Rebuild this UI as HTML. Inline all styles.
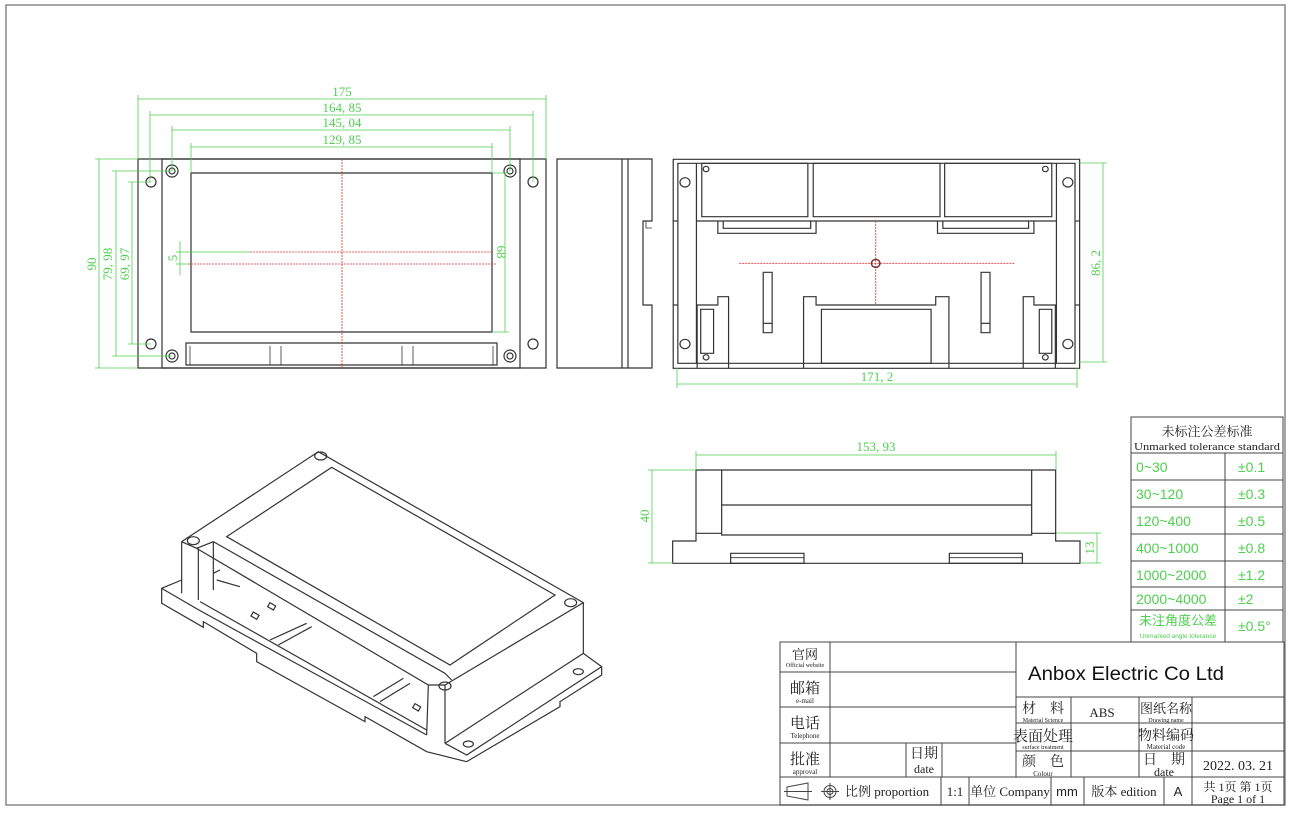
<!DOCTYPE html>
<html><head><meta charset="utf-8"><style>
html,body{margin:0;padding:0;background:#fff;}
svg{display:block;}
.l{fill:none;stroke:#333;stroke-width:1.2;vector-effect:non-scaling-stroke;}
.t{fill:none;stroke:#333;stroke-width:0.8;vector-effect:non-scaling-stroke;}
.g{fill:none;stroke:#4fcf4f;stroke-width:0.8;}
.r{fill:none;stroke:#e03030;stroke-width:0.8;stroke-dasharray:2 1;vector-effect:non-scaling-stroke;}
.dt{font-family:"Liberation Serif",serif;font-size:13px;fill:#4fcf4f;}
.gt{font-family:"Liberation Sans","Noto Sans CJK SC",sans-serif;fill:#4fcf4f;}
.bt{font-family:"Liberation Serif","Noto Serif CJK SC",serif;fill:#222;}
.tb{fill:none;stroke:#444;stroke-width:1;}
</style></head><body>
<svg width="1293" height="816" viewBox="0 0 1293 816" xmlns="http://www.w3.org/2000/svg">
<rect x="6" y="5" width="1279" height="800" fill="none" stroke="#888" stroke-width="1.5"/>

<!-- Top-left view -->
<g>
<rect class="l" x="138" y="159" width="408" height="209"/>
<rect class="l" x="162" y="159" width="358" height="209"/>
<rect class="l" x="191" y="173" width="301" height="159"/>
<rect class="l" x="186" y="343" width="311" height="22"/>
<line class="t" x1="190" y1="346" x2="190" y2="365"/><line class="t" x1="493" y1="346" x2="493" y2="365"/>
<line class="t" x1="270" y1="346" x2="270" y2="365"/><line class="t" x1="281" y1="346" x2="281" y2="365"/>
<line class="t" x1="402" y1="346" x2="402" y2="365"/><line class="t" x1="413" y1="346" x2="413" y2="365"/>
<g class="l">
<circle cx="172" cy="171" r="6"/><circle cx="172" cy="171" r="3"/>
<circle cx="510" cy="171" r="6"/><circle cx="510" cy="171" r="3"/>
<circle cx="172" cy="356" r="6"/><circle cx="172" cy="356" r="3"/>
<circle cx="510" cy="356" r="6"/><circle cx="510" cy="356" r="3"/>
<circle cx="151" cy="182" r="5"/><circle cx="533" cy="182" r="5"/>
<circle cx="151" cy="344" r="5"/><circle cx="533" cy="344" r="5"/>
</g>
<line class="r" x1="342" y1="159" x2="342" y2="368"/>
<line class="r" x1="188" y1="264" x2="496" y2="264"/>
<line class="r" x1="250" y1="252" x2="492" y2="252"/>
<line class="g" x1="188" y1="252" x2="250" y2="252"/>
<g class="g">
<line x1="138" y1="99" x2="546" y2="99"/><line x1="138" y1="95" x2="138" y2="159"/><line x1="546" y1="95" x2="546" y2="159"/>
<line x1="150" y1="115" x2="533" y2="115"/><line x1="150" y1="111" x2="150" y2="182"/><line x1="533" y1="111" x2="533" y2="182"/>
<line x1="172" y1="130" x2="510" y2="130"/><line x1="172" y1="126" x2="172" y2="171"/><line x1="510" y1="126" x2="510" y2="171"/>
<line x1="191" y1="147" x2="492" y2="147"/><line x1="191" y1="143" x2="191" y2="173"/><line x1="492" y1="143" x2="492" y2="173"/>
<line x1="99" y1="159" x2="99" y2="368"/><line x1="95" y1="159" x2="138" y2="159"/><line x1="95" y1="368" x2="138" y2="368"/>
<line x1="116" y1="171" x2="116" y2="356"/><line x1="112" y1="171" x2="172" y2="171"/><line x1="112" y1="356" x2="172" y2="356"/>
<line x1="132" y1="182" x2="132" y2="344"/><line x1="128" y1="182" x2="151" y2="182"/><line x1="128" y1="344" x2="151" y2="344"/>
<line x1="180" y1="241" x2="180" y2="275"/><line x1="176" y1="252" x2="188" y2="252"/><line x1="176" y1="264" x2="188" y2="264"/>
<line x1="505" y1="173" x2="505" y2="332"/><line x1="492" y1="173" x2="509" y2="173"/><line x1="492" y1="332" x2="509" y2="332"/>
</g>
<text class="dt" x="342" y="96" text-anchor="middle">175</text>
<text class="dt" x="342" y="112" text-anchor="middle">164, 85</text>
<text class="dt" x="342" y="127" text-anchor="middle">145, 04</text>
<text class="dt" x="342" y="144" text-anchor="middle">129, 85</text>
<text class="dt" transform="translate(96,264) rotate(-90)" text-anchor="middle">90</text>
<text class="dt" transform="translate(112,264) rotate(-90)" text-anchor="middle">79, 98</text>
<text class="dt" transform="translate(129,264) rotate(-90)" text-anchor="middle">69, 97</text>
<text class="dt" transform="translate(177,258) rotate(-90)" text-anchor="middle">5</text>
<text class="dt" transform="translate(497,252) rotate(90)" text-anchor="middle">68</text>
</g>

<!-- Side view -->
<path class="l" d="M557 159 H652 V221 H643 V305 H652 V368 H557 Z"/>
<line class="l" x1="622" y1="159" x2="622" y2="368"/>
<line class="l" x1="628" y1="159" x2="628" y2="368"/>
<path class="t" d="M646 221 V228 H652"/>

<!-- Back view -->
<g transform="translate(550,150) scale(0.35714,0.33333)">
<rect class="l" x="345" y="28" width="1138" height="627"/>
<rect class="l" x="358" y="40" width="1112" height="600"/>
<line class="l" x1="410" y1="40" x2="410" y2="640"/><line class="l" x1="1418" y1="40" x2="1418" y2="640"/>
<line class="l" x1="345" y1="213" x2="358" y2="213"/><line class="l" x1="345" y1="465" x2="358" y2="465"/>
<line class="l" x1="1470" y1="213" x2="1483" y2="213"/><line class="l" x1="1470" y1="465" x2="1483" y2="465"/>
<rect class="l" x="425" y="40" width="297" height="160"/>
<rect class="l" x="737" y="40" width="355" height="160"/>
<rect class="l" x="1105" y="40" width="300" height="160"/>
<line class="l" x1="410" y1="213" x2="1418" y2="213"/>
<path class="l" d="M470 213 V250 H745 V213 M485 213 V235 H730 V213"/>
<path class="l" d="M1085 213 V250 H1355 V213 M1100 213 V235 H1340 V213"/>
<circle class="l" cx="378" cy="97" r="14"/><circle class="l" cx="1450" cy="97" r="14"/>
<circle class="l" cx="378" cy="582" r="14"/><circle class="l" cx="1450" cy="582" r="14"/>
<circle class="l" cx="437" cy="57" r="8"/><circle class="l" cx="1387" cy="57" r="8"/>
<circle class="l" cx="437" cy="622" r="8"/><circle class="l" cx="1387" cy="622" r="8"/>
<line class="r" x1="530" y1="340" x2="1300" y2="340"/>
<line class="r" x1="912" y1="213" x2="912" y2="465"/>
<circle cx="912" cy="340" r="12" fill="none" stroke="#733" stroke-width="1.5" vector-effect="non-scaling-stroke"/>
<rect class="l" x="597" y="367" width="25" height="181"/><line class="l" x1="597" y1="520" x2="622" y2="520"/>
<rect class="l" x="1207" y="367" width="25" height="181"/><line class="l" x1="1207" y1="520" x2="1232" y2="520"/>
<path class="l" d="M710 655 V440 H745 V465 H1080 V440 H1117 V655"/>
<rect class="l" x="760" y="478" width="307" height="162"/>
<path class="l" d="M412 655 V465 H470 V440 H500 V655"/>
<rect class="l" x="422" y="478" width="36" height="132"/>
<path class="l" d="M1415 655 V465 H1355 V440 H1325 V655"/>
<rect class="l" x="1370" y="478" width="35" height="132"/>
</g>
<g class="g">
<line x1="677" y1="384" x2="1077" y2="384"/><line x1="677" y1="368" x2="677" y2="388"/><line x1="1077" y1="368" x2="1077" y2="388"/>
<line x1="1103" y1="163" x2="1103" y2="362"/><line x1="1078" y1="163" x2="1107" y2="163"/><line x1="1078" y1="362" x2="1107" y2="362"/>
</g>
<text class="dt" x="877" y="381" text-anchor="middle">171, 2</text>
<text class="dt" transform="translate(1100,263) rotate(-90)" text-anchor="middle">86, 2</text>

<!-- Bottom front view -->
<g transform="translate(635,435) scale(0.33333)">
<path class="l" d="M113 385 V318 H183 V105 H1262 V318 H1335 V385 Z"/>
<line class="l" x1="183" y1="295" x2="260" y2="295"/><line class="l" x1="1190" y1="295" x2="1262" y2="295"/>
<path class="l" d="M260 105 V300 H1190 V105"/>
<line class="l" x1="260" y1="210" x2="1190" y2="210"/>
<rect class="l" x="287" y="355" width="220" height="30"/><line class="t" x1="287" y1="368" x2="507" y2="368"/>
<rect class="l" x="943" y="355" width="219" height="30"/><line class="t" x1="943" y1="368" x2="1162" y2="368"/>
</g>
<g class="g">
<line x1="696" y1="455" x2="1056" y2="455"/><line x1="696" y1="451" x2="696" y2="470"/><line x1="1056" y1="451" x2="1056" y2="470"/>
<line x1="652" y1="470" x2="652" y2="563"/><line x1="648" y1="470" x2="696" y2="470"/><line x1="648" y1="563" x2="673" y2="563"/>
<line x1="1097" y1="533" x2="1097" y2="563"/><line x1="1056" y1="533" x2="1101" y2="533"/><line x1="1080" y1="563" x2="1101" y2="563"/>
</g>
<text class="dt" x="876" y="451" text-anchor="middle">153, 93</text>
<text class="dt" transform="translate(649,516) rotate(-90)" text-anchor="middle">40</text>
<text class="dt" transform="translate(1094,548) rotate(-90)" text-anchor="middle">13</text>

<!-- Isometric -->
<g transform="translate(150,440) scale(0.33333)">
<path class="l" d="M95 305 L505 35 L1300 488 L885 735"/>
<path class="l" d="M95 305 L140 325 L190 305 L885 700 L905 720"/>
<path class="l" d="M140 325 L835 735 L885 735"/>
<path class="l" d="M230 290 L545 82 L1215 465 L900 675 Z"/>
<line class="l" x1="95" y1="305" x2="95" y2="460"/>
<line class="l" x1="145" y1="325" x2="145" y2="480"/>
<line class="l" x1="190" y1="305" x2="190" y2="450"/>
<line class="l" x1="885" y1="735" x2="885" y2="910"/>
<line class="l" x1="835" y1="735" x2="830" y2="885"/>
<line class="l" x1="1300" y1="488" x2="1300" y2="640"/>
<path class="l" d="M885 910 L1300 640 L1355 680 L1355 705 L1230 785 L1230 800 L950 965"/>
<path class="l" d="M1355 680 L950 945 L885 910"/>
<path class="l" d="M95 420 L35 445 L35 490 L160 562 L160 545 L320 640 L320 665 L645 845 L645 830 L830 935 L950 965"/>
<path class="l" d="M35 445 L150 512 L830 885"/>
<path class="l" d="M150 485 L830 870"/>
<path class="l" d="M360 600 L470 550 M385 615 L485 560 M670 770 L760 715 M690 785 L780 730"/>
<path class="l" d="M190 400 L210 390 M200 420 L270 440"/>
<rect class="l" x="305" y="520" width="20" height="14" transform="rotate(30 315 527)"/>
<rect class="l" x="355" y="492" width="20" height="14" transform="rotate(30 365 499)"/>
<rect class="l" x="790" y="795" width="20" height="14" transform="rotate(30 800 802)"/>
<ellipse class="l" cx="512" cy="48" rx="18" ry="12"/>
<ellipse class="l" cx="130" cy="302" rx="18" ry="12"/>
<ellipse class="l" cx="1262" cy="488" rx="18" ry="12"/>
<ellipse class="l" cx="885" cy="738" rx="18" ry="12"/>
<ellipse class="l" cx="1285" cy="695" rx="15" ry="9"/>
<ellipse class="l" cx="955" cy="912" rx="15" ry="9"/>
</g>

<!-- Tolerance table -->
<g>
<rect class="tb" x="1131" y="417" width="152" height="225"/>
<g class="tb">
<line x1="1131" y1="453" x2="1283" y2="453"/>
<line x1="1131" y1="480" x2="1283" y2="480"/>
<line x1="1131" y1="507" x2="1283" y2="507"/>
<line x1="1131" y1="534" x2="1283" y2="534"/>
<line x1="1131" y1="561" x2="1283" y2="561"/>
<line x1="1131" y1="587" x2="1283" y2="587"/>
<line x1="1131" y1="610" x2="1283" y2="610"/>
<line x1="1225" y1="453" x2="1225" y2="642"/>
</g>
<text class="bt" x="1207" y="436" font-size="13" text-anchor="middle">未标注公差标准</text>
<text class="bt" x="1207" y="450" font-size="10" text-anchor="middle" font-family="Liberation Mono" textLength="146" lengthAdjust="spacingAndGlyphs">Unmarked tolerance standard</text>
<g class="gt" font-size="14">
<text x="1136" y="472">0~30</text><text x="1238" y="472">±0.1</text>
<text x="1136" y="499">30~120</text><text x="1238" y="499">±0.3</text>
<text x="1136" y="526">120~400</text><text x="1238" y="526">±0.5</text>
<text x="1136" y="553">400~1000</text><text x="1238" y="553">±0.8</text>
<text x="1136" y="580">1000~2000</text><text x="1238" y="580">±1.2</text>
<text x="1136" y="604">2000~4000</text><text x="1238" y="604">±2</text>
<text x="1238" y="631">±0.5°</text>
</g>
<text class="gt" x="1178" y="625" font-size="13" text-anchor="middle">未注角度公差</text>
<text class="gt" x="1178" y="638" font-size="6.5" text-anchor="middle">Unmarked angle tolerance</text>
</g>

<!-- Title block -->
<g>
<rect class="tb" x="780" y="642" width="504" height="163"/>
<g class="tb">
<line x1="830" y1="642" x2="830" y2="777"/>
<line x1="1016" y1="642" x2="1016" y2="777"/>
<line x1="780" y1="672" x2="1016" y2="672"/>
<line x1="780" y1="707" x2="1016" y2="707"/>
<line x1="780" y1="743" x2="1016" y2="743"/>
<line x1="780" y1="777" x2="1284" y2="777"/>
<line x1="906" y1="743" x2="906" y2="777"/>
<line x1="942" y1="743" x2="942" y2="777"/>
<line x1="1016" y1="697" x2="1284" y2="697"/>
<line x1="1016" y1="723" x2="1284" y2="723"/>
<line x1="1016" y1="751" x2="1284" y2="751"/>
<line x1="1071" y1="697" x2="1071" y2="777"/>
<line x1="1139" y1="697" x2="1139" y2="777"/>
<line x1="1192" y1="697" x2="1192" y2="805"/>
<line x1="941" y1="777" x2="941" y2="805"/>
<line x1="969" y1="777" x2="969" y2="805"/>
<line x1="1051" y1="777" x2="1051" y2="805"/>
<line x1="1084" y1="777" x2="1084" y2="805"/>
<line x1="1164" y1="777" x2="1164" y2="805"/>
</g>
<g class="bt">
<text x="805" y="659" font-size="13" text-anchor="middle">官网</text>
<text x="805" y="667" font-size="6" text-anchor="middle">Official website</text>
<text x="805" y="693" font-size="15" text-anchor="middle">邮箱</text>
<text x="805" y="703" font-size="7" text-anchor="middle">e-mail</text>
<text x="805" y="728" font-size="15" text-anchor="middle">电话</text>
<text x="805" y="738" font-size="7" text-anchor="middle">Telephone</text>
<text x="805" y="764" font-size="15" text-anchor="middle">批准</text>
<text x="805" y="774" font-size="7" text-anchor="middle">approval</text>
<text x="924" y="758" font-size="14" text-anchor="middle">日期</text>
<text x="924" y="773" font-size="12" text-anchor="middle">date</text>
<text x="1043" y="713" font-size="14" text-anchor="middle">材　料</text>
<text x="1043" y="722" font-size="6" text-anchor="middle">Material Science</text>
<text x="1102" y="717" font-size="13" text-anchor="middle">ABS</text>
<text x="1166" y="713" font-size="13" text-anchor="middle">图纸名称</text>
<text x="1166" y="722" font-size="6" text-anchor="middle">Drawing name</text>
<text x="1043" y="741" font-size="15" text-anchor="middle">表面处理</text>
<text x="1043" y="749" font-size="6" text-anchor="middle">surface treatment</text>
<text x="1166" y="740" font-size="14" text-anchor="middle">物料编码</text>
<text x="1166" y="749" font-size="7" text-anchor="middle">Material code</text>
<text x="1043" y="766" font-size="14" text-anchor="middle">颜　色</text>
<text x="1043" y="776" font-size="7" text-anchor="middle">Colour</text>
<text x="1164" y="764" font-size="14" text-anchor="middle">日　期</text>
<text x="1164" y="776" font-size="12" text-anchor="middle">date</text>
<text x="1238" y="770" font-size="14" text-anchor="middle">2022. 03. 21</text>
<text x="845" y="796" font-size="13">比例 proportion</text>
<text x="955" y="796" font-size="13" text-anchor="middle">1:1</text>
<text x="1010" y="796" font-size="13" text-anchor="middle">单位 Company</text>
<text x="1067" y="796" font-size="13" text-anchor="middle" font-family="Liberation Sans">mm</text>
<text x="1124" y="796" font-size="13" text-anchor="middle">版本 edition</text>
<text x="1178" y="796" font-size="13" text-anchor="middle" font-family="Liberation Sans">A</text>
<text x="1238" y="791" font-size="12" text-anchor="middle">共 1页 第 1页</text>
<text x="1238" y="803" font-size="12" text-anchor="middle">Page 1 of 1</text>
</g>
<path class="tb" d="M787 787 L808 783 L808 800 L787 796 Z M784 791.5 H812"/>
<circle class="tb" cx="830" cy="791.5" r="6"/><circle class="tb" cx="830" cy="791.5" r="3"/>
<path class="tb" d="M821 791.5 H839 M830 783 V800"/>
<text x="1028" y="680" font-family="Liberation Sans,sans-serif" font-size="19" fill="#111" textLength="196" lengthAdjust="spacingAndGlyphs">Anbox Electric Co Ltd</text>
</g>
</svg>
</body></html>
